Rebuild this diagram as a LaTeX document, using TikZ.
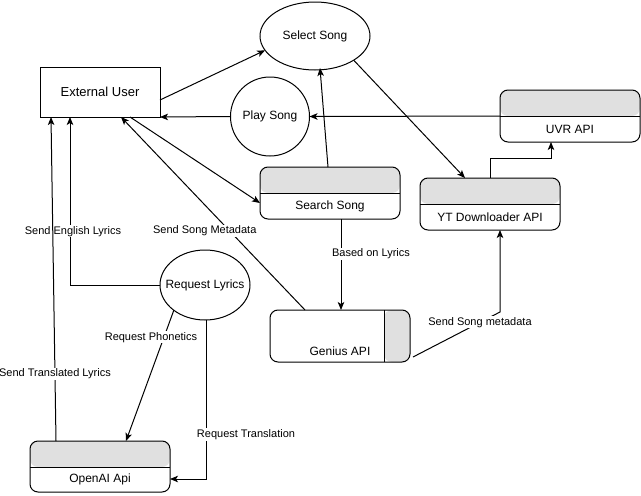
\documentclass[tikz,border=0pt]{standalone}
\usepackage{fontspec}
\setmainfont{Liberation Sans}
\usetikzlibrary{arrows.meta,shapes.geometric}
\definecolor{hdr}{HTML}{E0E0E0}
\begin{document}
\begin{tikzpicture}[x=1pt,y=-1pt,line width=1pt,
  every node/.style={outer sep=0pt},
  txt/.style={font=\fontsize{12}{14}\selectfont},
  lbl/.style={font=\fontsize{11}{13}\selectfont,fill=white,inner sep=1pt},
  arr/.style={-{Stealth[length=8pt,width=6.5pt,inset=2pt]}},
  proc/.style={draw,ellipse,txt,inner sep=0pt},
  plain/.style={draw,rectangle,font=\fontsize{13}{15}\selectfont,minimum width=120pt,minimum height=50pt},
  lane/.style={draw,rounded corners=8pt,minimum width=140pt,minimum height=52pt,
    path picture={
      \fill[hdr] (path picture bounding box.north west) rectangle ([yshift=-26pt]path picture bounding box.north east);
      \draw ([yshift=-26pt]path picture bounding box.north west) -- ([yshift=-26pt]path picture bounding box.north east);}},
  sidelane/.style={draw,rounded corners=8pt,minimum width=140pt,minimum height=52pt,
    path picture={
      \fill[hdr] ([xshift=-26pt]path picture bounding box.north east) rectangle (path picture bounding box.south east);
      \draw ([xshift=-26pt]path picture bounding box.north east) -- ([xshift=-26pt]path picture bounding box.south east);}}
]
\useasboundingbox (0,0) rectangle (641,496);

% nodes
\node[plain] (ext) at (100,92) {External User};
\node[proc,minimum width=110pt,minimum height=68pt] (sel) at (315,36) {\makebox[0pt]{Select Song}};
\node[draw,circle,txt,minimum size=79pt,inner sep=0pt] (play) at (270,116.5) {\makebox[0pt]{Play Song}};
\node[lane,label={[txt,yshift=-13pt]center:Search Song}] (search) at (330,193) {};
\node[lane,label={[txt,yshift=-13pt]center:YT Downloader API}] (yt) at (490,204) {};
\node[lane,label={[txt,yshift=-13pt]center:UVR API}] (uvr) at (570,116) {};
\node[proc,minimum width=90pt,minimum height=70pt] (rl) at (205,285) {\makebox[0pt]{Request Lyrics}};
\node[sidelane,label={[txt,yshift=-15pt]center:Genius API}] (gen) at (340,336) {};
\node[lane,minimum height=51pt,label={[txt,yshift=-12.5pt]center:OpenAI Api}] (oai) at (100,466.5) {};
\coordinate (bend) at (500,312);

% connectors
\draw[arr] ([yshift=-8pt]ext.east) -- (sel.196);
\draw[arr] (play.west) -- (ext.south east);
\draw[arr] (uvr.west) -- (play.east);
\draw[arr] ([xshift=30pt]ext.south) -- ([yshift=-10pt]search.west);
\draw[arr] ([xshift=-2pt]search.north) -- ([xshift=5pt,yshift=2pt]sel.south);
\draw[arr] (sel.-32) -- ([xshift=-25pt]yt.north);
\draw[arr] (yt.north) -- ++(0,-20) -| ([xshift=-19pt]uvr.south);
\draw[arr] ([xshift=11pt]search.south) -- node[lbl,pos=0.385,xshift=30pt]{Based on Lyrics} ([xshift=1pt]gen.north);
\draw[arr] ([xshift=3pt,yshift=5pt]gen.south east) -- node[lbl,pos=0.77]{Send Song metadata} (bend) -- ([xshift=10pt]yt.south);
\draw[arr] ([xshift=35pt]gen.north west) -- node[lbl,pos=0.409,xshift=-25pt]{Send Song Metadata} ([xshift=81pt]ext.south west);
\draw[arr] (rl.west) -| node[lbl,pos=0.66,xshift=3pt]{Send English Lyrics} ([xshift=30pt]ext.south west);
\draw[arr] ([xshift=26pt]oai.north west) -- node[lbl,pos=0.207]{Send Translated Lyrics} ([xshift=11pt]ext.south west);
\draw[arr] (rl.219) -- node[lbl,pos=0.206,xshift=-13pt]{Request Phonetics} ([xshift=26pt]oai.north);
\draw[arr] ([xshift=1pt]rl.south) |- node[lbl,pos=0.36,xshift=40pt]{Request Translation} ([yshift=-12.5pt]oai.east);
\end{tikzpicture}
\end{document}
